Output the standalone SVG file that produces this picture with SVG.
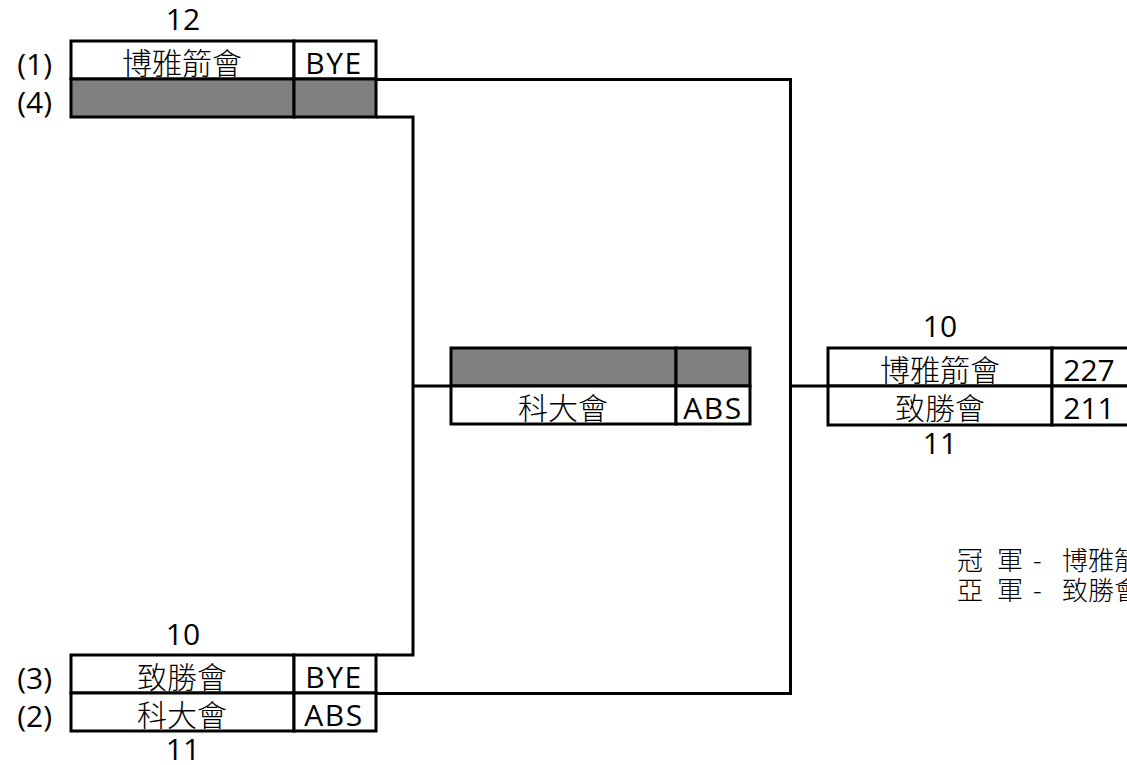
<svg xmlns="http://www.w3.org/2000/svg" width="1127" height="765" viewBox="0 0 1127 765">
<style>
text{font-family:"Open Sans","Noto Sans CJK TC",sans-serif;font-size:30px;fill:#000}
.k{font-family:"Noto Sans CJK TC",sans-serif;font-weight:300}
.c{text-anchor:middle}
.e{text-anchor:end}
.w{letter-spacing:1.5px}
.cell{fill:#fff;stroke:#000;stroke-width:3}
.g{fill:#808080;stroke:#000;stroke-width:3}
.ln{fill:none;stroke:#000;stroke-width:3}
.r{font-size:26px}
</style>
<rect width="1127" height="765" fill="#fff"/>
<g id="connectors">
<path class="ln" d="M376,79.5H790.5V693.5H376"/>
<path class="ln" d="M376,117H413V655H376"/>
<path class="ln" d="M413,386H451"/>
<path class="ln" d="M790.5,386H828"/>
</g>
<g id="match1">
<rect class="cell" x="71" y="41" width="223" height="38"/>
<rect class="cell" x="294" y="41" width="82" height="38"/>
<rect class="g" x="71" y="79" width="223" height="38"/>
<rect class="g" x="294" y="79" width="82" height="38"/>
<text class="c" x="183" y="30">12</text>
<text class="e" x="52" y="75">(1)</text>
<text class="e" x="52" y="113">(4)</text>
<text class="c k" x="182" y="74">博雅箭會</text>
<text class="c w" x="334" y="74">BYE</text>
</g>
<g id="match2">
<rect class="cell" x="71" y="655" width="223" height="38"/>
<rect class="cell" x="294" y="655" width="82" height="38"/>
<rect class="cell" x="71" y="693" width="223" height="38"/>
<rect class="cell" x="294" y="693" width="82" height="38"/>
<text class="c" x="183" y="645">10</text>
<text class="e" x="52" y="689">(3)</text>
<text class="e" x="52" y="727">(2)</text>
<text class="c k" x="182" y="688">致勝會</text>
<text class="c w" x="334" y="688">BYE</text>
<text class="c k" x="182" y="726">科大會</text>
<text class="c w" x="334" y="726">ABS</text>
<text class="c" x="183" y="760">11</text>
</g>
<g id="semi">
<rect class="g" x="451" y="348" width="225" height="38"/>
<rect class="g" x="676" y="348" width="74" height="38"/>
<rect class="cell" x="451" y="386" width="225" height="38"/>
<rect class="cell" x="676" y="386" width="74" height="38"/>
<text class="c k" x="563" y="419">科大會</text>
<text class="c w" x="713" y="419">ABS</text>
</g>
<g id="final">
<rect class="cell" x="828" y="348" width="224" height="38"/>
<rect class="cell" x="1052" y="348" width="80" height="38"/>
<rect class="cell" x="828" y="386" width="224" height="39"/>
<rect class="cell" x="1052" y="386" width="80" height="39"/>
<text class="c" x="940" y="337">10</text>
<text class="c k" x="940" y="381">博雅箭會</text>
<text class="c" x="1089" y="381">227</text>
<text class="c k" x="940" y="419">致勝會</text>
<text class="c" x="1089" y="419">211</text>
<text class="c" x="940" y="454">11</text>
</g>
<g id="result">
<text class="r k" y="570"><tspan x="957">冠</tspan><tspan x="997">軍</tspan><tspan x="1033">-</tspan><tspan x="1062">博雅箭會</tspan></text>
<text class="r k" y="600"><tspan x="957">亞</tspan><tspan x="997">軍</tspan><tspan x="1033">-</tspan><tspan x="1062">致勝會</tspan></text>
</g>
</svg>
